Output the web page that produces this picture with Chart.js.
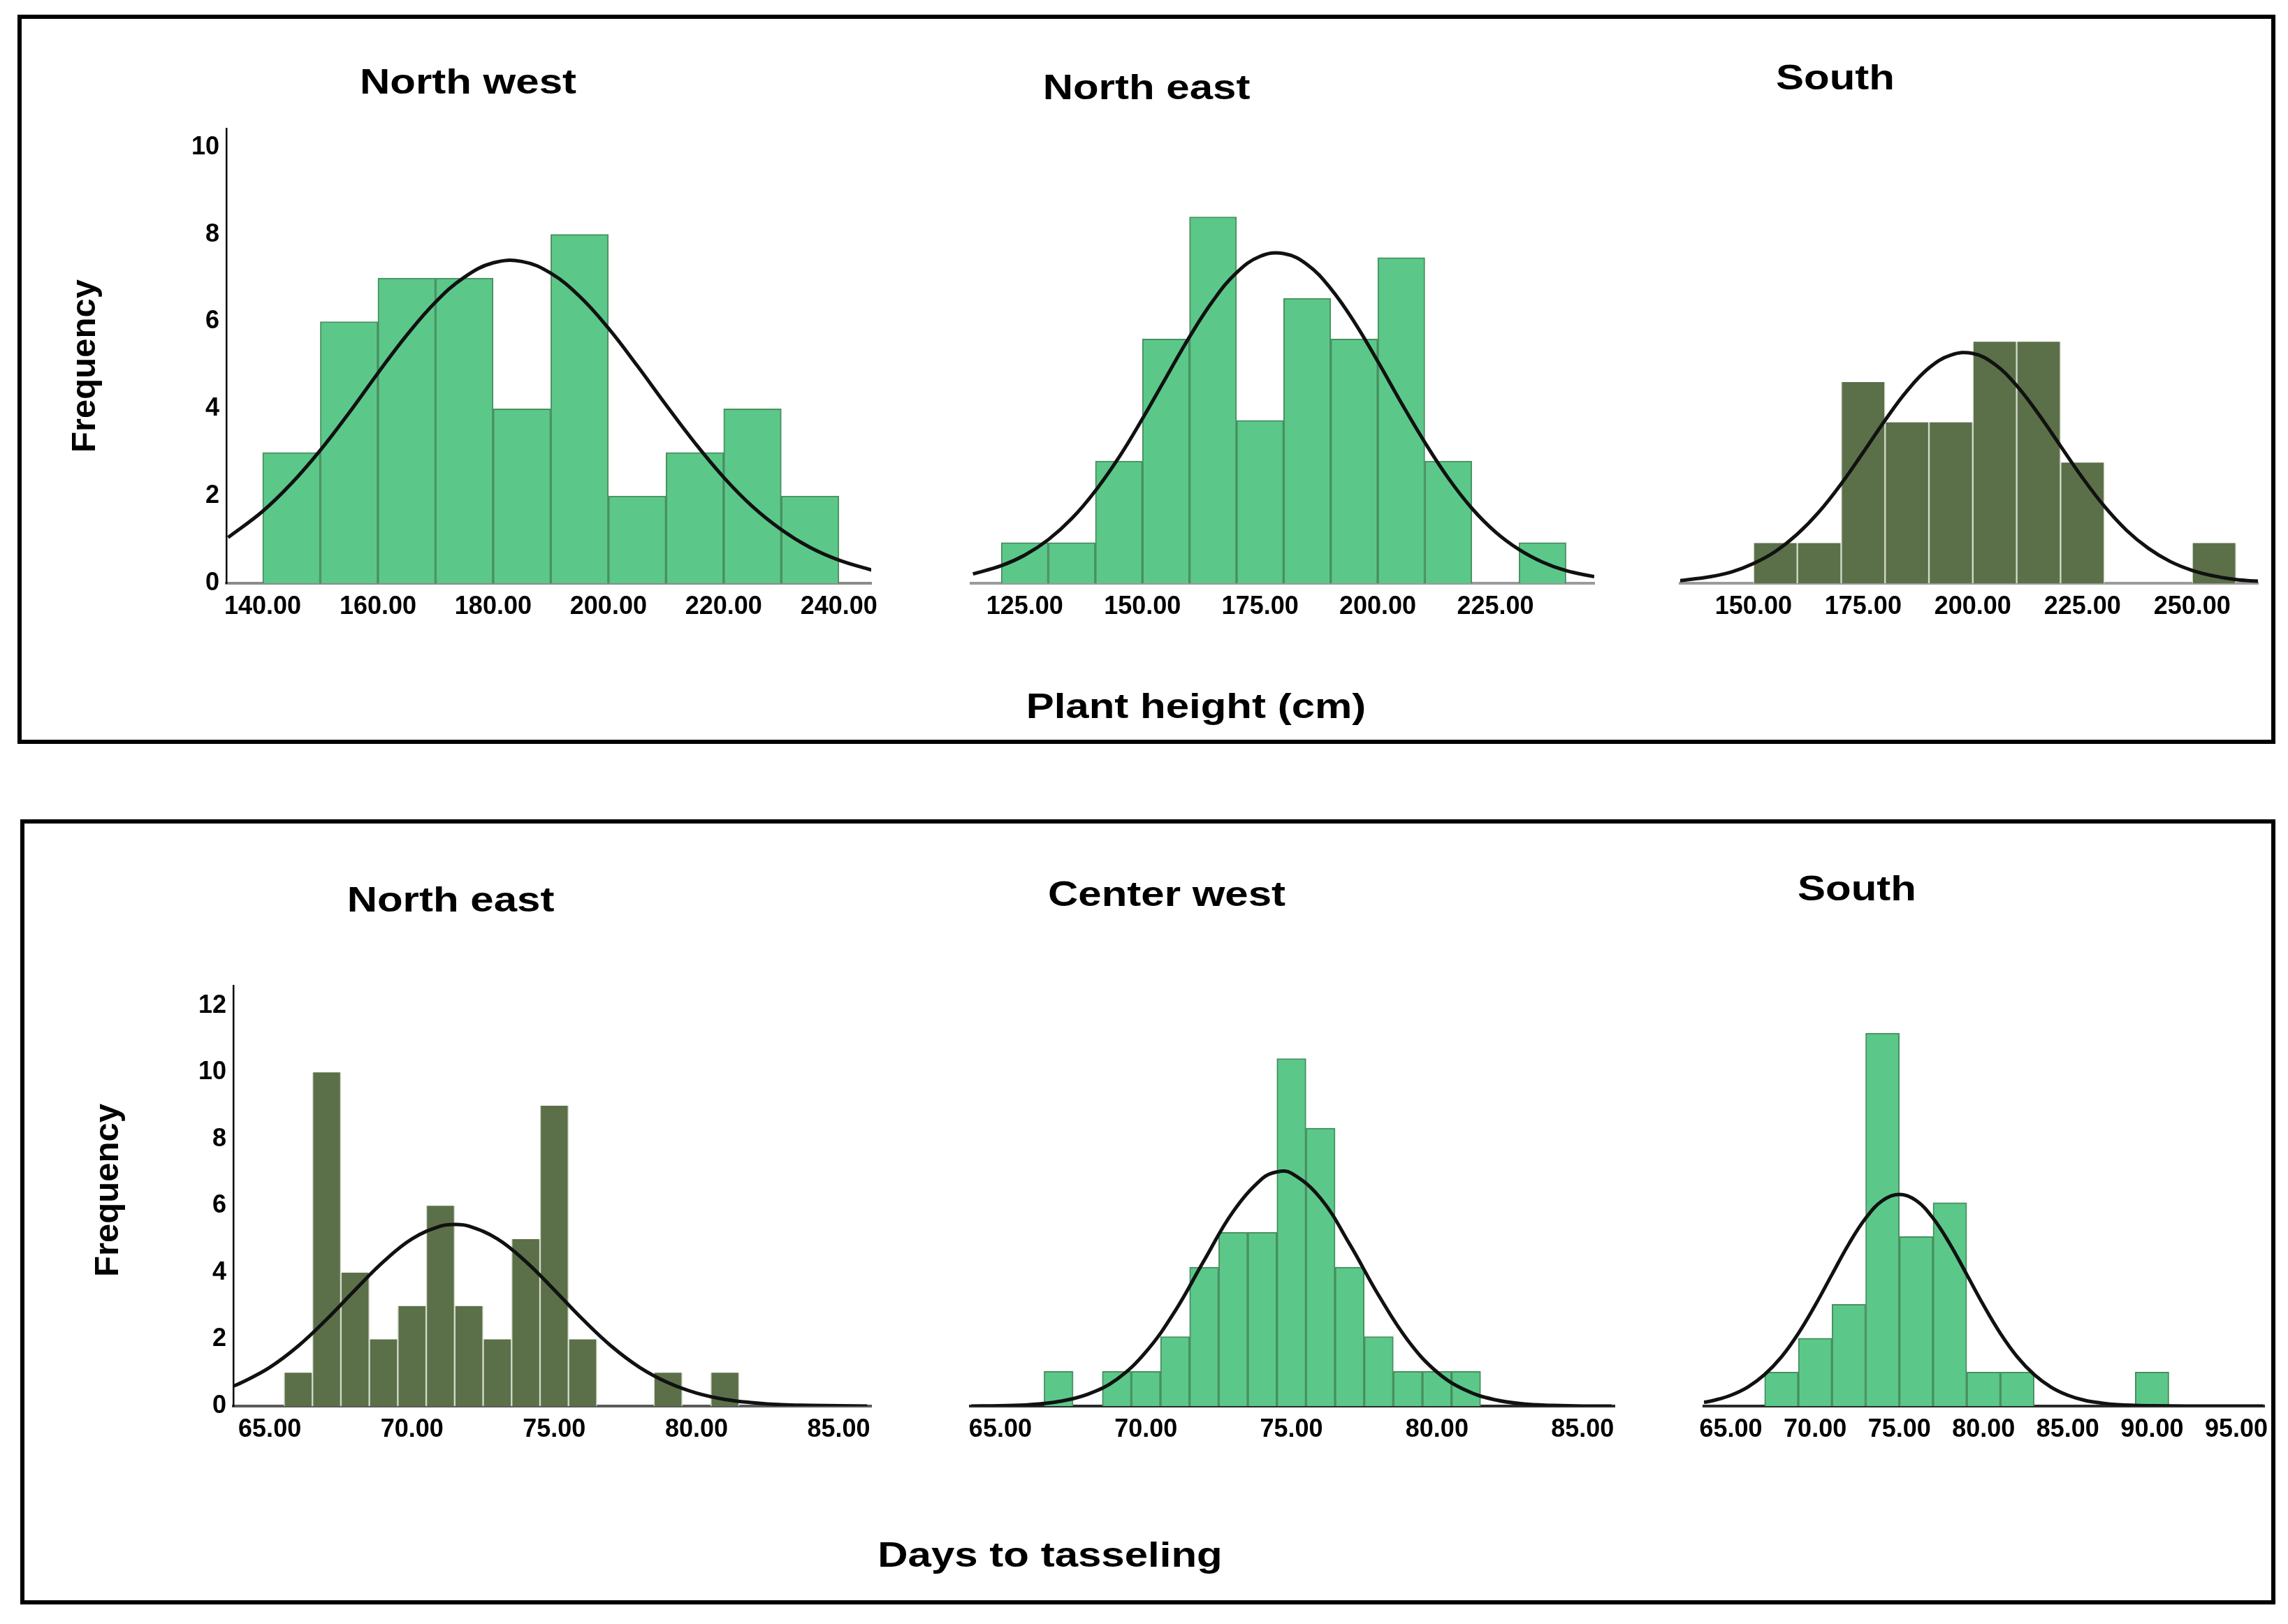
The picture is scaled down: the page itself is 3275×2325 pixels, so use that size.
<!DOCTYPE html>
<html>
<head>
<meta charset="utf-8">
<script src="https://cdn.jsdelivr.net/npm/chart.js@4.4.0/dist/chart.umd.min.js"></script>
<style>
  body { margin: 0; width: 3275px; height: 2325px; background: #fff; position: relative; overflow: hidden;
         font-family: "Liberation Sans", Arial, sans-serif; }
  .box { position: absolute; border: 6px solid #000; box-sizing: border-box; }
  .txt { position: absolute; font-weight: bold; white-space: nowrap; color: #000; font-size: 50px;
         transform: translate(-50%, -50%) scaleX(1.2); }
  .ylab { position: absolute; font-weight: bold; white-space: nowrap; color: #000; font-size: 49px;
          transform: translate(-50%, -50%) rotate(-90deg); }
  .panel { position: absolute; }
</style>
</head>
<body>
<div class="box" style="left:25px;top:21px;width:3232px;height:1044px"></div>
<div class="box" style="left:29px;top:1173px;width:3228px;height:1124px"></div>

<script>
// ---- Plant height (cm), bins of 10 ----
const nwBins = [145, 155, 165, 175, 185, 195, 205, 215, 225, 235];
const nwCounts = [3, 6, 7, 7, 4, 8, 2, 3, 4, 2];
const nwCurveX = [134, 140, 145, 150, 155, 160, 165, 170, 175, 180, 185, 190, 195, 200, 205, 210, 215, 220, 225, 230, 235, 240, 246];
const nwCurveY = [1.05, 1.65, 2.29, 3.05, 3.91, 4.82, 5.69, 6.45, 7.02, 7.35, 7.38, 7.11, 6.58, 5.85, 4.99, 4.09, 3.22, 2.43, 1.76, 1.23, 0.82, 0.53, 0.29];

const neBins = [125, 135, 145, 155, 165, 175, 185, 195, 205, 215, 225, 235];
const neCounts = [1, 1, 3, 6, 9, 4, 7, 6, 8, 3, 0, 1];
const neCurveX = [114, 120, 125, 130, 135, 140, 145, 150, 155, 160, 165, 170, 175, 180, 185, 190, 195, 200, 205, 210, 215, 220, 225, 230, 235, 240, 246];
const neCurveY = [0.23, 0.43, 0.69, 1.07, 1.59, 2.27, 3.09, 4.04, 5.05, 6.05, 6.94, 7.63, 8.03, 8.10, 7.83, 7.24, 6.42, 5.45, 4.43, 3.46, 2.58, 1.84, 1.26, 0.83, 0.52, 0.31, 0.16];

const sBins = [155, 165, 175, 185, 195, 205, 215, 225, 235, 245, 255];
const sCounts = [1, 1, 5, 4, 4, 6, 6, 3, 0, 0, 1];
const sCurveX = [133, 140, 145, 150, 155, 160, 165, 170, 175, 180, 185, 190, 195, 200, 205, 210, 215, 220, 225, 230, 235, 240, 245, 250, 255, 260, 265];
const sCurveY = [0.06, 0.16, 0.28, 0.49, 0.79, 1.22, 1.78, 2.47, 3.25, 4.05, 4.78, 5.35, 5.67, 5.71, 5.44, 4.91, 4.20, 3.41, 2.62, 1.91, 1.32, 0.87, 0.54, 0.32, 0.18, 0.09, 0.05];

// ---- Days to tasseling ----
const dneBins = [66, 67, 68, 69, 70, 71, 72, 73, 74, 75, 76, 77, 78, 79, 80, 81];
const dneCounts = [1, 10, 4, 2, 3, 6, 3, 2, 5, 9, 2, 0, 0, 1, 0, 1];
const dneCurveX = [63.7, 64, 65, 66, 67, 68, 69, 70, 71, 71.5, 72, 73, 74, 75, 76, 77, 78, 79, 80, 81, 82, 83, 84, 85, 86];
const dneCurveY = [0.59, 0.70, 1.16, 1.80, 2.60, 3.48, 4.33, 5.01, 5.39, 5.44, 5.39, 5.01, 4.33, 3.48, 2.60, 1.80, 1.16, 0.70, 0.39, 0.20, 0.10, 0.04, 0.02, 0.01, 0.00];

const cwBins = [67, 68, 69, 70, 71, 72, 73, 74, 75, 76, 77, 78, 79, 80, 81];
const cwCounts = [1, 0, 1, 1, 2, 4, 5, 5, 10, 8, 4, 2, 1, 1, 1];
const cwCurveX = [64, 65, 66, 67, 68, 69, 70, 71, 72, 73, 74, 74.5, 75, 76, 77, 78, 79, 80, 81, 82, 83, 84, 85, 86];
const cwCurveY = [0.00, 0.01, 0.04, 0.13, 0.34, 0.77, 1.56, 2.73, 4.19, 5.60, 6.55, 6.74, 6.70, 5.98, 4.66, 3.18, 1.89, 0.98, 0.45, 0.18, 0.06, 0.02, 0.00, 0.00];

const dsBins = [68, 70, 72, 74, 76, 78, 80, 82, 84, 86, 88, 90];
const dsCounts = [1, 2, 3, 11, 5, 6, 1, 1, 0, 0, 0, 1];
const dsCurveX = [63.4, 64, 65, 66, 67, 68, 69, 70, 71, 72, 73, 74, 75, 76, 77, 78, 79, 80, 81, 82, 83, 84, 85, 86, 87, 88, 89, 90, 92, 94, 96.6];
const dsCurveY = [0.11, 0.17, 0.32, 0.56, 0.93, 1.45, 2.14, 2.97, 3.88, 4.78, 5.54, 6.06, 6.24, 6.06, 5.54, 4.78, 3.88, 2.97, 2.14, 1.45, 0.93, 0.56, 0.32, 0.17, 0.09, 0.04, 0.02, 0.01, 0.00, 0.00, 0.00];

// tick labels
const nwTicks = [140, 160, 180, 200, 220, 240];
const neTicks = [125, 150, 175, 200, 225];
const sTicks = [150, 175, 200, 225, 250];
const daysTicks = [65, 70, 75, 80, 85];
const daysTicksS = [65, 70, 75, 80, 85, 90, 95];
const freqTicksTop = [0, 2, 4, 6, 8, 10];
const freqTicksBottom = [0, 2, 4, 6, 8, 10, 12];

const titles = ["North west", "North east", "South", "North east", "Center west", "South"];
const rowLabels = ["Plant height (cm)", "Days to tasseling"];
const yLabel = "Frequency";

const lightGreen = "#5bc88a";
const darkGreen = "#5b7049";

const panels = [
  { bins: nwBins, counts: nwCounts, cx: nwCurveX, cy: nwCurveY, xTicks: nwTicks, yTicks: freqTicksTop,
    left: 324, top: 184, w: 923, h: 651, xMin: 133.7, xMax: 245.6, yMax: 10.43, dark: false, xBorder: "#8a8a8a",
    title: [670, 117] },
  { bins: neBins, counts: neCounts, cx: neCurveX, cy: neCurveY, xTicks: neTicks, yTicks: null,
    left: 1390, top: 184, w: 892, h: 651, xMin: 113.6, xMax: 246, yMax: 11.17, dark: false, xBorder: "#9a9a9a",
    title: [1641, 125] },
  { bins: sBins, counts: sCounts, cx: sCurveX, cy: sCurveY, xTicks: sTicks, yTicks: null,
    left: 2405, top: 184, w: 827, h: 651, xMin: 133.3, xMax: 265, yMax: 11.3, dark: true, xBorder: "#9a9a9a",
    title: [2627, 111] },
  { bins: dneBins, counts: dneCounts, cx: dneCurveX, cy: dneCurveY, xTicks: daysTicks, yTicks: freqTicksBottom,
    left: 334, top: 1411, w: 913, h: 602, xMin: 63.72, xMax: 86.14, yMax: 12.6, dark: true, xBorder: "#5a5a5a",
    title: [645, 1288] },
  { bins: cwBins, counts: cwCounts, cx: cwCurveX, cy: cwCurveY, xTicks: daysTicks, yTicks: null,
    left: 1389, top: 1411, w: 922, h: 602, xMin: 63.97, xMax: 86.1, yMax: 12.1, dark: false, xBorder: "#2a2a2a",
    title: [1670, 1280] },
  { bins: dsBins, counts: dsCounts, cx: dsCurveX, cy: dsCurveY, xTicks: daysTicksS, yTicks: null,
    left: 2439, top: 1411, w: 802, h: 602, xMin: 63.4, xMax: 96.66, yMax: 12.4, dark: false, xBorder: "#2a2a2a",
    title: [2658, 1272] }
];

const tickFont = { family: '"Liberation Sans Narrow", "Liberation Sans", Arial, sans-serif', size: 36, weight: "bold" };

function addText(cls, text, x, y) {
  const d = document.createElement("div");
  d.className = cls;
  d.textContent = text;
  d.style.left = x + "px";
  d.style.top = y + "px";
  document.body.appendChild(d);
}

function makePanel(p, i) {
  const padL = 60, padR = 40, padT = 20, padB = 10, axisH = 70;
  const yW = p.yTicks ? 60 : 0;
  const wrap = document.createElement("div");
  wrap.className = "panel";
  wrap.style.left = (p.left - yW - padL) + "px";
  wrap.style.top = (p.top - padT) + "px";
  wrap.style.width = (padL + yW + p.w + padR) + "px";
  wrap.style.height = (padT + p.h + axisH + padB) + "px";
  const cv = document.createElement("canvas");
  wrap.appendChild(cv);
  document.body.appendChild(wrap);

  new Chart(cv, {
    type: "bar",
    data: {
      datasets: [
        {
          type: "line",
          data: p.cx.map((x, k) => ({ x: x, y: p.cy[k] })),
          borderColor: "#111",
          borderWidth: 5,
          pointRadius: 0,
          tension: 0.4,
          fill: false,
          order: 0,
        },
        {
          type: "bar",
          data: p.bins.map((x, k) => ({ x: x, y: p.counts[k] })),
          backgroundColor: p.dark ? darkGreen : lightGreen,
          borderColor: p.dark ? "#d3dacb" : "#48905f",
          borderWidth: p.dark ? { top: 0, left: 1.5, right: 1.5, bottom: 0 } : { top: 2, left: 2, right: 2, bottom: 0 },
          barPercentage: 1,
          categoryPercentage: 1,
          order: 1,
        },
      ],
    },
    options: {
      responsive: true,
      maintainAspectRatio: false,
      devicePixelRatio: 1,
      animation: false,
      layout: { padding: { left: padL, right: padR, top: padT, bottom: padB } },
      plugins: { legend: { display: false }, tooltip: { enabled: false } },
      scales: {
        x: {
          type: "linear",
          min: p.xMin,
          max: p.xMax,
          offset: false,
          grid: { display: false, drawTicks: false },
          border: { display: true, color: p.xBorder, width: 4 },
          ticks: {
            autoSkip: false,
            maxRotation: 0,
            padding: 12,
            color: "#000",
            font: tickFont,
            callback: (v) => Number(v).toFixed(2),
          },
          afterBuildTicks: (s) => { s.ticks = p.xTicks.map((v) => ({ value: v })); },
          afterFit: (s) => { s.height = axisH; s.paddingLeft = 0; s.paddingRight = 0; },
        },
        y: {
          min: 0,
          max: p.yMax,
          display: !!p.yTicks,
          grid: { display: false, drawTicks: false },
          border: { display: true, color: "#000", width: 2.5 },
          ticks: {
            padding: 10,
            color: "#000",
            font: tickFont,
            callback: (v) => String(v),
          },
          afterBuildTicks: (s) => { if (p.yTicks) s.ticks = p.yTicks.map((v) => ({ value: v })); },
          afterFit: (s) => { if (p.yTicks) s.width = yW; s.paddingTop = 0; s.paddingBottom = 0; },
        },
      },
    },
  });

  addText("txt", titles[i], p.title[0], p.title[1]);
}

panels.forEach(makePanel);

addText("txt", rowLabels[0], 1712, 1011);
addText("txt", rowLabels[1], 1503, 2226);
addText("ylab", yLabel, 119, 524);
addText("ylab", yLabel, 152, 1704);
</script>
</body>
</html>
